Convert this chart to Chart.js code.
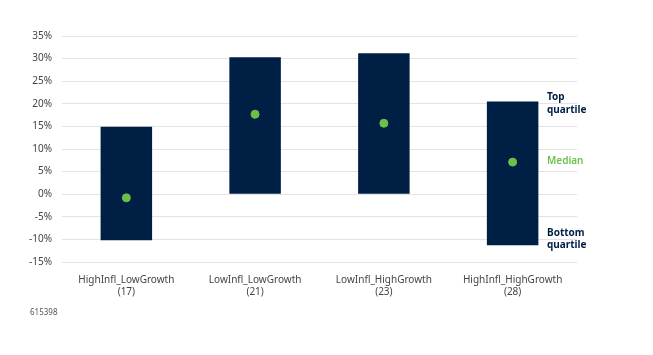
<!DOCTYPE html>
<html>
<head>
<meta charset="utf-8">
<script src="https://cdn.jsdelivr.net/npm/chart.js@4"></script>
<style>
html,body{margin:0;padding:0;background:#fff;}
#wrap{position:relative;width:653px;height:355px;}
</style>
</head>
<body>
<div id="wrap"><canvas id="c" width="653" height="355"></canvas></div>
<script>
const categories = [['HighInfl_LowGrowth','(17)'],['LowInfl_LowGrowth','(21)'],['LowInfl_HighGrowth','(23)'],['HighInfl_HighGrowth','(28)']];
const bottomQuartile = [-10.2, 0, 0, -11.3];
const topQuartile = [14.9, 30.3, 31.2, 20.5];
const medians = [-0.8, 17.7, 15.7, 7.1];
const yTicks = [-15,-10,-5,0,5,10,15,20,25,30,35];
const footnote = '615398';

const NAVY = '#001f45';
const GREEN = '#6cc04a';
const FONT = '"Noto Sans", "Open Sans", sans-serif';

const annotate = {
  id: 'annotate',
  afterDraw(chart) {
    const ctx = chart.ctx;
    const y = chart.scales.y;
    const x0 = chart.chartArea.right - 30;
    ctx.save();
    ctx.textBaseline = 'middle';
    ctx.textAlign = 'left';
    ctx.font = 'bold 10px ' + FONT;
    ctx.fillStyle = NAVY;
    const last = categories.length - 1;
    const tY = y.getPixelForValue(topQuartile[last]);
    ctx.fillText('Top', x0, tY - 4);
    ctx.fillText('quartile', x0, tY + 9);
    const bY = y.getPixelForValue(bottomQuartile[last]);
    ctx.fillText('Bottom', x0, bY - 12);
    ctx.fillText('quartile', x0, bY);
    ctx.font = '600 10px ' + FONT;
    ctx.fillStyle = GREEN;
    ctx.fillText('Median', x0, y.getPixelForValue(medians[last]) - 1);
    ctx.font = '8px ' + FONT;
    ctx.fillStyle = '#555';
    ctx.fillText(footnote, 30, 313);
    ctx.restore();
  }
};

new Chart(document.getElementById('c'), {
  type: 'bar',
  data: {
    labels: categories,
    datasets: [
      {
        type: 'scatter',
        data: medians.map((m, i) => ({x: i, y: m})),
        backgroundColor: GREEN,
        borderColor: GREEN,
        pointRadius: 4,
        pointHoverRadius: 4,
        order: 0
      },
      {
        type: 'bar',
        data: bottomQuartile.map((b, i) => [b, topQuartile[i]]),
        backgroundColor: NAVY,
        borderWidth: 0,
        barPercentage: 0.4,
        categoryPercentage: 1,
        order: 1
      }
    ]
  },
  options: {
    responsive: false,
    animation: false,
    layout: {padding: {left: 19, right: 76, top: 36, bottom: 53}},
    plugins: {legend: {display: false}, tooltip: {enabled: false}},
    scales: {
      x: {
        type: 'category',
        offset: true,
        grid: {display: false, drawBorder: false},
        border: {display: false},
        ticks: {color: '#444', font: {family: FONT, size: 10}, maxRotation: 0, padding: 4}
      },
      y: {
        min: -15, max: 35,
        afterBuildTicks(axis) { axis.ticks = yTicks.map(v => ({value: v})); },
        grid: {color: '#e3e3e3', drawTicks: false},
        border: {display: false},
        ticks: {color: '#444', font: {family: FONT, size: 10}, padding: 10, callback: v => v + '%'}
      }
    }
  },
  plugins: [annotate]
});
</script>
</body>
</html>
